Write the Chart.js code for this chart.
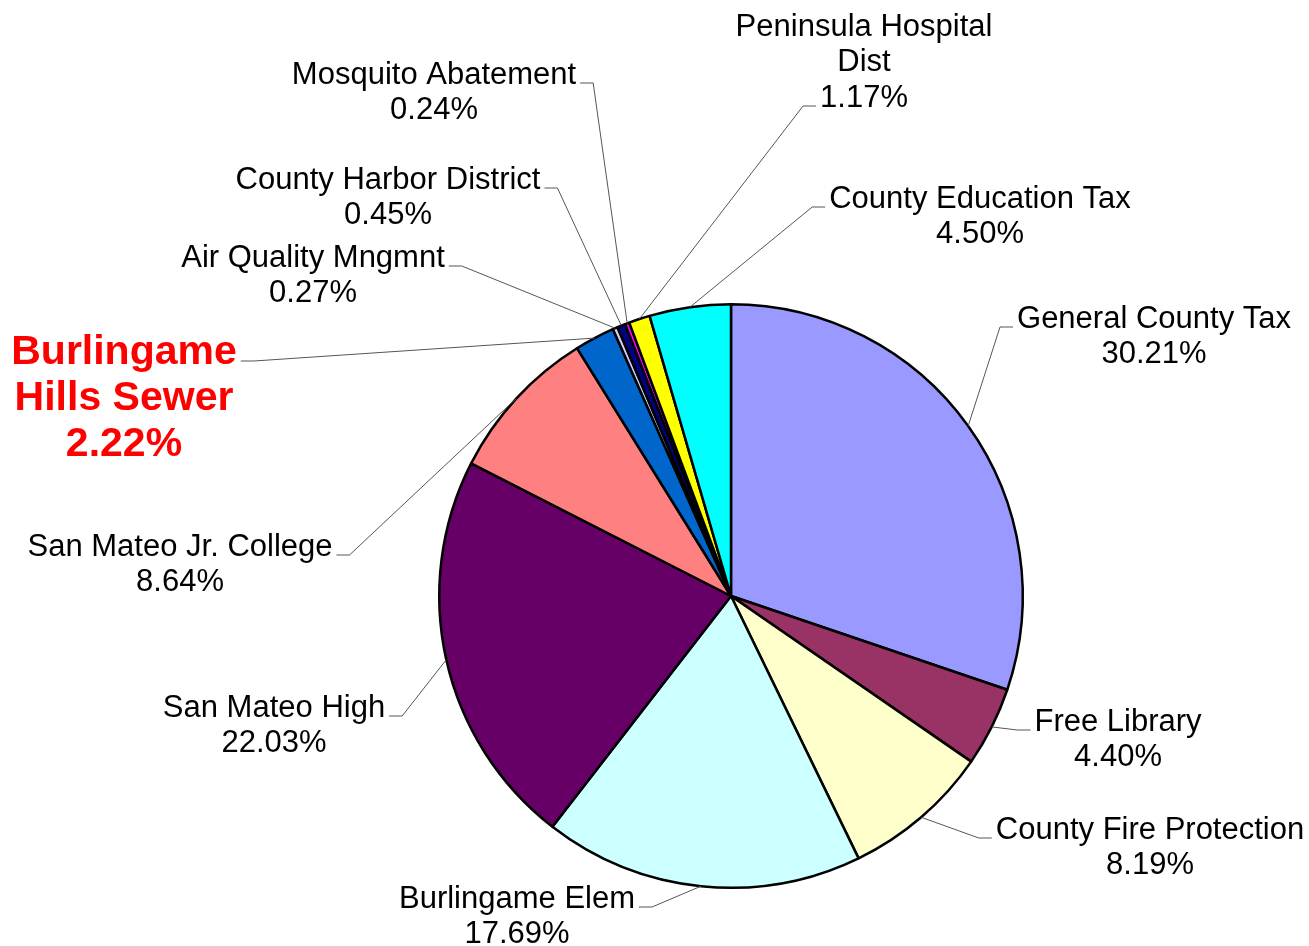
<!DOCTYPE html>
<html>
<head>
<meta charset="utf-8">
<script src="https://cdn.jsdelivr.net/npm/chart.js@4/dist/chart.umd.min.js"></script>
<style>
  body { margin: 0; background: #fff; }
  #wrap { width: 1309px; height: 946px; }
</style>
</head>
<body>
<div id="wrap"><canvas id="pie" width="1309" height="946"></canvas></div>
<script>
// data
var names = ['General County Tax', 'Free Library', 'County Fire Protection', 'Burlingame Elem',
             'San Mateo High', 'San Mateo Jr. College', 'Burlingame\nHills Sewer', 'Air Quality Mngmnt',
             'County Harbor District', 'Mosquito Abatement', 'Peninsula Hospital\nDist', 'County Education Tax'];
var shares = [30.21, 4.40, 8.19, 17.69, 22.03, 8.64, 2.22, 0.27, 0.45, 0.24, 1.17, 4.50];
var colors = ['#9999FF', '#993366', '#FFFFCC', '#CCFFFF', '#660066', '#FF8080',
              '#0066CC', '#CCCCFF', '#000080', '#FF00FF', '#FFFF00', '#00FFFF'];

// where each label sits: centre x, first line centre y, side the leader leaves from, line it hooks on
var labelPos = [
    { x: 1154, y: 319, side: 'left', line: 0 },
    { x: 1118, y: 722, side: 'left', line: 0 },
    { x: 1150, y: 830, side: 'left', line: 0 },
    { x: 517, y: 899, side: 'right', line: 0 },
    { x: 274, y: 708, side: 'right', line: 0 },
    { x: 180, y: 547, side: 'right', line: 0 },
    { x: 124, y: 353, side: 'right', line: 0, bold: true },
    { x: 313, y: 258, side: 'right', line: 0 },
    { x: 388, y: 180, side: 'right', line: 0 },
    { x: 434, y: 75, side: 'right', line: 0 },
    { x: 864, y: 27, side: 'left', line: 2 },
    { x: 980, y: 199, side: 'left', line: 0 }
];

var labelPlugin = {
    id: 'leaderLabels',
    afterDatasetsDraw: function (chart) {
        var ctx = chart.ctx;
        var arcs = chart.getDatasetMeta(0).data;
        ctx.save();
        ctx.textAlign = 'center';
        ctx.textBaseline = 'middle';
        for (var i = 0; i < arcs.length; i++) {
            var arc = arcs[i];
            var p = labelPos[i];
            var lines = names[i].split('\n');
            lines.push(shares[i].toFixed(2) + '%');
            var lh = p.bold ? 46 : 35.5;
            ctx.font = p.bold ? 'bold 41px "Liberation Sans", Arial, sans-serif' : '31px "Liberation Sans", Arial, sans-serif';
            ctx.fillStyle = p.bold ? '#FF0000' : '#000000';
            for (var j = 0; j < lines.length; j++) {
                ctx.fillText(lines[j], p.x, p.y + j * lh);
            }
            // leader line
            var w = ctx.measureText(lines[p.line]).width;
            var hy = p.y + p.line * lh + 8;
            var hx = p.side === 'right' ? p.x + w / 2 + 4 : p.x - w / 2 - 4;
            var ex = p.side === 'right' ? hx + 13 : hx - 13;
            var mid = (arc.startAngle + arc.endAngle) / 2;
            var ax = arc.x + Math.cos(mid) * arc.outerRadius;
            var ay = arc.y + Math.sin(mid) * arc.outerRadius;
            ctx.beginPath();
            ctx.moveTo(hx, hy);
            ctx.lineTo(ex, hy);
            ctx.lineTo(ax, ay);
            ctx.strokeStyle = '#555555';
            ctx.lineWidth = 1;
            ctx.stroke();
        }
        ctx.restore();
    }
};

new Chart(document.getElementById('pie'), {
    type: 'pie',
    data: {
        labels: names,
        datasets: [{
            data: shares,
            backgroundColor: colors,
            borderColor: '#000000',
            borderWidth: 2.5
        }]
    },
    options: {
        responsive: false,
        animation: false,
        layout: { padding: { left: 438, right: 285, top: 303, bottom: 57 } },
        plugins: {
            legend: { display: false },
            tooltip: { enabled: false }
        }
    },
    plugins: [labelPlugin]
});
</script>
</body>
</html>
